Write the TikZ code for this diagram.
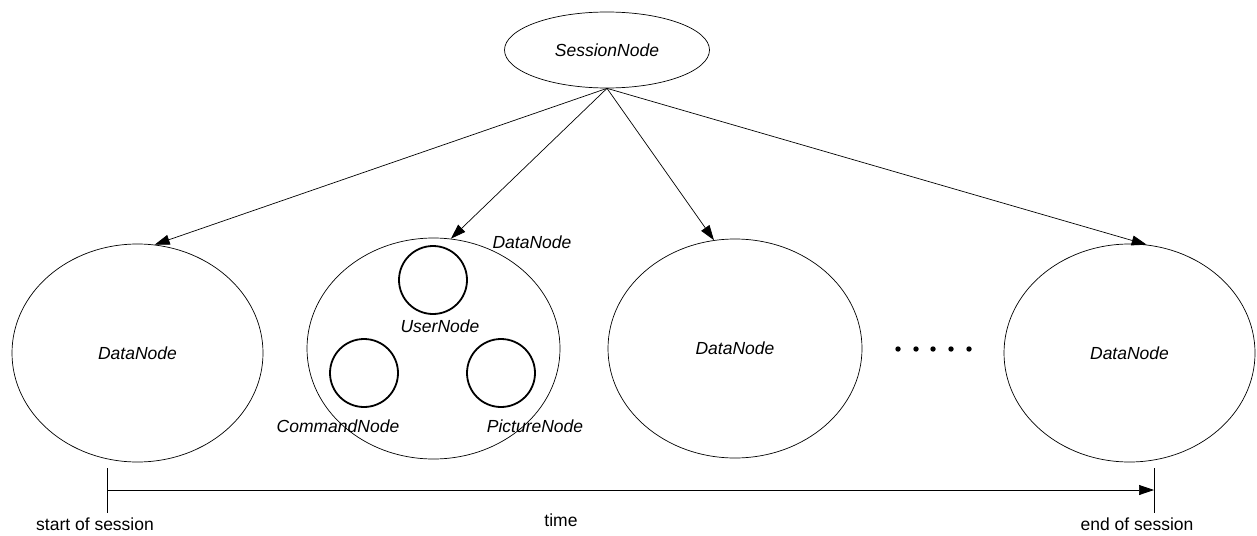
\documentclass[tikz,border=0pt]{standalone}
\usepackage{fontspec}
\setmainfont{Liberation Sans}
\usetikzlibrary{shapes.geometric,arrows.meta}
\begin{document}
\begin{tikzpicture}[x=1pt,y=-1pt,
  txt/.style={inner sep=0pt, font=\fontsize{17.5}{21}\selectfont},
  itxt/.style={inner sep=0pt, font=\fontsize{17.5}{21}\selectfont\itshape},
  oval/.style={ellipse, draw, line width=0.7pt, inner sep=0pt, font=\fontsize{17.5}{21}\selectfont\itshape},
  sub/.style={circle, draw, line width=1.8pt, inner sep=0pt, minimum size=68pt},
  dotn/.style={circle, fill, inner sep=0pt, minimum size=5.4pt},
  conn/.style={line width=0.7pt, -{Triangle[length=15pt,width=10pt]}},
  tick/.style={line width=0.7pt}]
\useasboundingbox (0,0) rectangle (1257,535);
% session
\node[oval, minimum width=205pt, minimum height=76pt] (ss) at (607,50) {SessionNode};
% data nodes
\node[oval, minimum width=251pt, minimum height=218pt] (e1) at (137.5,353) {DataNode};
\node[oval, minimum width=253pt, minimum height=221pt] (e2) at (433.5,348.5) {};
\node[oval, minimum width=254pt, minimum height=219pt] (e3) at (735,348.5) {DataNode};
\node[oval, minimum width=251pt, minimum height=218pt] (e4) at (1129.5,353) {DataNode};
\node[itxt] (e2l) at (532,242) {DataNode};
% inner nodes
\node[sub] (un) at (433,280) {};
\node[sub] (cn) at (364,373) {};
\node[sub] (pn) at (501,373) {};
\node[itxt] (unl) at (440,326) {UserNode};
\node[itxt] (cnl) at (338,426) {CommandNode};
\node[itxt] (pnl) at (535,426) {PictureNode};
% dots
\node[dotn] (d1) at (898,349) {};
\node[dotn] (d2) at (916,349) {};
\node[dotn] (d3) at (933,349) {};
\node[dotn] (d4) at (951,349) {};
\node[dotn] (d5) at (969,349) {};
% connectors
\draw[conn] (ss.south) -- (e1.81);
\draw[conn] (ss.south) -- (e2.81);
\draw[conn] (ss.south) -- (e3.101);
\draw[conn] (ss.south) -- (e4.81.5);
% timeline
\coordinate (t1a) at (107,468);
\coordinate (t1b) at (107,513);
\coordinate (t1) at (107,490);
\coordinate (t2a) at (1154,468);
\coordinate (t2b) at (1154,513);
\coordinate (t2) at (1154,490);
\draw[tick] (t1a) -- (t1b);
\draw[tick] (t2a) -- (t2b);
\draw[conn] (t1) -- (t2);
\node[txt] (sl) at (95,524) {start of session};
\node[txt] (tl) at (561,520) {time};
\node[txt] (el) at (1137,524) {end of session};
\end{tikzpicture}
\end{document}
